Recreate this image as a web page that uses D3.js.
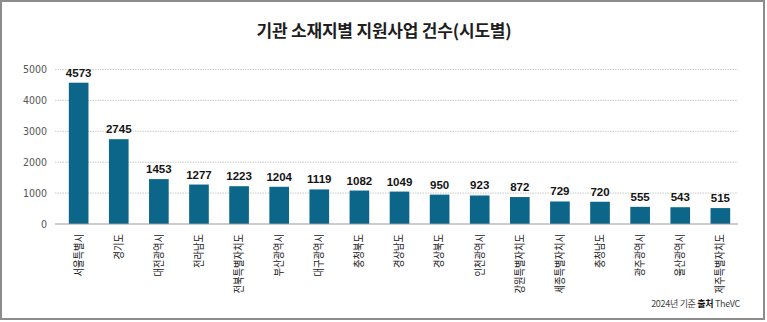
<!DOCTYPE html>
<html><head><meta charset="utf-8">
<script src="https://cdn.jsdelivr.net/npm/d3@7"></script>
<style>
html,body{margin:0;padding:0;background:#fff;}
svg{display:block;}
</style></head>
<body>
<svg id="chart" width="767" height="322"></svg>
<script>
const categories = ["서울특별시","경기도","대전광역시","전라남도","전북특별자치도","부산광역시","대구광역시","충청북도","경상남도","경상북도","인천광역시","강원특별자치도","세종특별자치시","충청남도","광주광역시","울산광역시","제주특별자치도"];
const values = [4573,2745,1453,1277,1223,1204,1119,1082,1049,950,923,872,729,720,555,543,515];
const yTicks = [0,1000,2000,3000,4000,5000];
const title = "기관 소재지별 지원사업 건수(시도별)";

const svg = d3.select("#chart");

svg.append("rect").attr("x",1).attr("y",1).attr("width",763).attr("height",318)
  .attr("fill","#fff").attr("stroke","#8c8c8c").attr("stroke-width",2);

const x = d3.scaleBand().domain(categories).range([58.6,740.4]).paddingInner(0.51).paddingOuter(0.255);
const y = d3.scaleLinear().domain([0,5000]).range([224,69.5]);

svg.append("text").attr("transform","translate(384,37)").attr("text-anchor","middle")
  .attr("font-family","'Noto Sans CJK KR', sans-serif").attr("font-weight","bold")
  .attr("font-size",17).attr("letter-spacing","-0.2").attr("fill","#1e1e1e").text(title);

// gridlines
svg.append("g").selectAll("line").data(yTicks.filter(d=>d>0)).join("line")
  .attr("x1",55).attr("x2",738).attr("y1",d=>y(d)).attr("y2",d=>y(d))
  .attr("stroke","#bdbdbd").attr("stroke-width",0.8).attr("stroke-dasharray","1.5,1");

// y axis labels
const yAxis = d3.axisLeft(y).tickValues(yTicks).tickSize(0).tickPadding(0).tickFormat(d3.format("d"));
const gy = svg.append("g").attr("transform","translate(47,0)").call(yAxis);
gy.select(".domain").remove();
gy.selectAll("text").attr("font-family","'Liberation Sans Narrow','DejaVu Sans Condensed',sans-serif")
  .attr("font-size",10.5).attr("fill","#555");

// bars
svg.append("g").selectAll("rect").data(values).join("rect")
  .attr("x",(d,i)=>x(categories[i])).attr("width",x.bandwidth())
  .attr("y",d=>y(d)).attr("height",d=>y(0)-y(d)).attr("fill","#0b668a");

// zero axis
svg.append("line").attr("x1",55).attr("x2",738).attr("y1",y(0)).attr("y2",y(0))
  .attr("stroke","#9a9a9a").attr("stroke-width",1);

// value labels
svg.append("g").selectAll("text").data(values).join("text")
  .attr("x",(d,i)=>x(categories[i])+x.bandwidth()/2).attr("y",d=>y(d)-6)
  .attr("text-anchor","middle").attr("font-family","'Liberation Sans',Arial,sans-serif")
  .attr("font-weight","bold").attr("font-size",11.5).attr("fill","#141414").text(d=>d);

// x axis labels
const xAxis = d3.axisBottom(x).tickSize(0).tickPadding(0);
const gx = svg.append("g").attr("transform",`translate(0,${y(0)})`).call(xAxis);
gx.select(".domain").remove();
gx.selectAll("text").attr("transform","translate(0,10) rotate(-90) scale(0.84,1)")
  .attr("dy","0.35em").attr("x",0).attr("y",0)
  .attr("text-anchor","end")
  .attr("font-family","'Noto Sans CJK KR',sans-serif").attr("font-size",11)
  .attr("fill","#222");

// footer
const foot = svg.append("text").attr("x",740).attr("y",307).attr("text-anchor","end")
  .attr("font-family","'Noto Sans CJK KR',sans-serif").attr("font-size",9).attr("letter-spacing","-0.3").attr("fill","#444");
foot.append("tspan").text("2024년 기준 ");
foot.append("tspan").attr("font-weight","bold").attr("fill","#111").text("출처");
foot.append("tspan").text(" TheVC");
</script>
</body></html>
